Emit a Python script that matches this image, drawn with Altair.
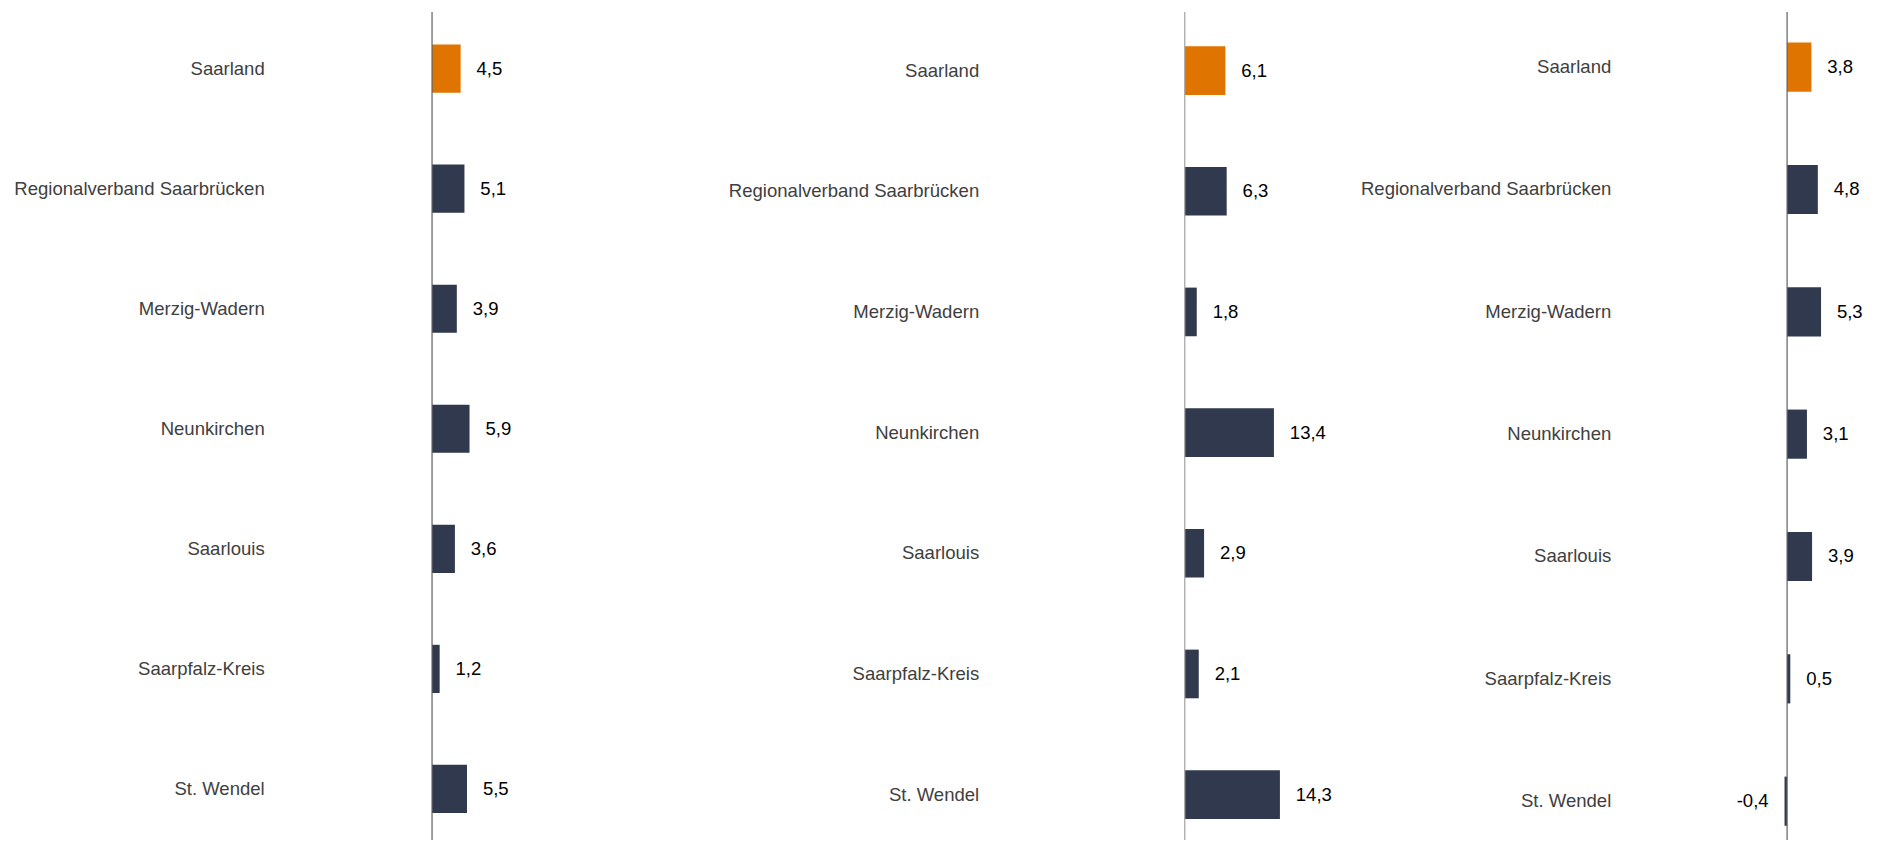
import altair as alt
import pandas as pd

# ---- data -----------------------------------------------------------------
regions = [
    "Saarland",
    "Regionalverband Saarbrücken",
    "Merzig-Wadern",
    "Neunkirchen",
    "Saarlouis",
    "Saarpfalz-Kreis",
    "St. Wendel",
]
values_1 = [4.5, 5.1, 3.9, 5.9, 3.6, 1.2, 5.5]
values_2 = [6.1, 6.3, 1.8, 13.4, 2.9, 2.1, 14.3]
values_3 = [3.8, 4.8, 5.3, 3.1, 3.9, 0.5, -0.4]
highlight = "Saarland"
zero_line = [0]

# ---- style ----------------------------------------------------------------
ORANGE = "#E07400"
NAVY = "#31394E"
FONT = "Liberation Sans"
FS = 18.67
H = 834


def make_panel(values, width, x_domain, label_padding, pad_inner, pad_outer,
               align, rule_color):
    df = pd.DataFrame({"region": regions, "value": values})
    df["label"] = [f"{v:.1f}".replace(".", ",") for v in values]
    base = alt.Chart(df)
    y = alt.Y(
        "region:N",
        sort=regions,
        scale=alt.Scale(paddingInner=pad_inner, paddingOuter=pad_outer, align=align),
        axis=alt.Axis(
            title=None, domain=False, ticks=False, grid=False,
            labelPadding=label_padding, labelFont=FONT, labelFontSize=FS,
            labelColor="#404040", labelLimit=600,
        ),
    )
    x = alt.X("value:Q", scale=alt.Scale(domain=x_domain, nice=False),
              axis=None)
    bars = base.mark_bar().encode(
        x=x,
        y=y,
        color=alt.condition(alt.datum.region == highlight,
                            alt.value(ORANGE), alt.value(NAVY)),
    )
    rule = alt.Chart(pd.DataFrame({"value": zero_line})).mark_rule(
        color=rule_color, strokeWidth=1.2
    ).encode(x=x)
    pos = base.transform_filter("datum.value >= 0").mark_text(
        align="left", baseline="middle", dx=16, font=FONT, fontSize=FS,
        color="#000000"
    ).encode(x=x, y=y, text="label:N")
    neg = base.transform_filter("datum.value < 0").mark_text(
        align="right", baseline="middle", dx=-16, font=FONT, fontSize=FS,
        color="#000000"
    ).encode(x=x, y=y, text="label:N")
    return alt.layer(bars, rule, pos, neg).properties(width=width, height=H)


p1 = make_panel(values_1, 297.2, [0, 46.44], 169.0, 0.5988, 0.2487, 0.5466, "#5f5f5f")
p2 = make_panel(values_2, 175.4, [0, 26.18], 207.5, 0.5968, 0.23, 0.619, "#a0a0a0")
p3 = make_panel(values_3, 81.9, [-0.7, 12.0], 173.0, 0.5982, 0.1839, 0.681, "#5f5f5f")

chart = alt.hconcat(p1, p2, p3, spacing=0).properties(
    padding={"left": 5, "top": 0, "right": 5, "bottom": 0}
).configure_view(stroke=None)

chart.save("out.html", embed_options={"renderer": "svg", "actions": False})
